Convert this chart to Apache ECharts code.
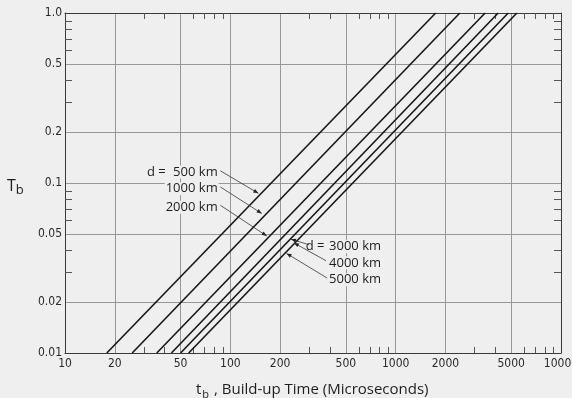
<!DOCTYPE html>
<html><head><meta charset="utf-8">
<script src="https://cdn.jsdelivr.net/npm/echarts@6/dist/echarts.min.js"></script>
<style>html,body{margin:0;padding:0;background:#efefef}#c{width:572px;height:398px}</style>
</head><body><div id="c"></div>
<script>
// ---- data ----
const distances = ['500 km', '1000 km', '2000 km', '3000 km', '4000 km', '5000 km'];
const tAtTlow  = [17.9, 25.5, 35.9, 44, 50, 56];        // build-up time where T_b = 0.01
const tAtThigh = [1746, 2444, 3475, 4169, 4797, 5408];  // build-up time where T_b = 1.0
const TEnds = [0.01, 1.0];
const xMajorTicks = [10, 20, 50, 100, 200, 500, 1000, 2000, 5000, 10000];
const xTickLabels = ['10', '20', '50', '100', '200', '500', '1000', '2000', '5000', '10000'];
const xMinorTicks = [30, 40, 60, 70, 80, 90, 300, 400, 600, 700, 800, 900, 3000, 4000, 6000, 7000, 8000, 9000];
const yMajorTicks = [0.01, 0.02, 0.05, 0.1, 0.2, 0.5, 1];
const yTickLabels = ['0.01', '0.02', '0.05', '0.1', '0.2', '0.5', '1.0'];
const yMinorTicks = [0.03, 0.04, 0.06, 0.07, 0.08, 0.09, 0.3, 0.4, 0.6, 0.7, 0.8, 0.9];
// annotation anchors in data coordinates [t, T]
const leftLabelAnchors  = [[85, 0.116], [85, 0.0925], [85, 0.072]];
const leftDAnchor = [30.9, 0.116];
const rightLabelAnchors = [[390, 0.0422], [390, 0.0339], [390, 0.0270]];
const rightDAnchor = [376, 0.0422];
const leaderStarts = [[87, 0.118], [87, 0.0948], [87, 0.0740], [300, 0.0433], [379, 0.0349], [385, 0.0276]];
const leaderEnds   = [[147.7, 0.0870], [154.9, 0.0662], [166, 0.0488], [232.8, 0.0467], [242.6, 0.0444], [219, 0.0385]];

// ---- chart ----
const chart = echarts.init(document.getElementById('c'), null, {renderer: 'canvas'});
const frameColor = '#3a3a3a';
const gridColor = '#979797';
const tickFont = {fontFamily: "'Liberation Sans Narrow','DejaVu Sans Condensed',sans-serif", fontSize: 12, color: '#2a2a2a'};
const annFont = "'Open Sans','Liberation Sans',sans-serif";

function labelFor(v, ticks, labels) {
  let best = 0, bd = Infinity;
  ticks.forEach((t, i) => { const d = Math.abs(Math.log(t) - Math.log(v)); if (d < bd) { bd = d; best = i; } });
  return labels[best];
}

const series = distances.map((d, i) => ({
  name: d, type: 'line', xAxisIndex: 0, yAxisIndex: 0, symbol: 'none', showSymbol: false,
  data: [[tAtTlow[i], TEnds[0]], [tAtThigh[i], TEnds[1]]],
  lineStyle: {color: '#161616', width: 1.6}, silent: true
}));

const xBase = {type: 'log', logBase: 10, min: 10, max: 10000};
const yBase = {type: 'log', logBase: 10, min: 0.01, max: 1};

chart.setOption({
  backgroundColor: '#efefef',
  animation: false,
  grid: {left: 65, right: 11, top: 13, bottom: 45, containLabel: false, outerBoundsMode: 'none'},
  xAxis: [
    Object.assign({}, xBase, {
      position: 'bottom',
      axisLine: {show: true, lineStyle: {color: frameColor, width: 1}},
      axisTick: {show: false, customValues: xMajorTicks},
      axisLabel: Object.assign({customValues: xMajorTicks, margin: 5, hideOverlap: false,
        formatter: v => labelFor(v, xMajorTicks, xTickLabels)}, tickFont),
      splitLine: {show: true, lineStyle: {color: gridColor, width: 1}}
    }),
    Object.assign({}, xBase, {
      position: 'bottom',
      axisLine: {show: false},
      axisTick: {show: true, inside: true, length: 6, customValues: xMinorTicks, lineStyle: {color: '#555', width: 1}},
      axisLabel: {show: false}, splitLine: {show: false}
    }),
    Object.assign({}, xBase, {
      position: 'top',
      axisLine: {show: true, lineStyle: {color: frameColor, width: 1}},
      axisTick: {show: true, inside: true, length: 6, customValues: xMinorTicks, lineStyle: {color: '#555', width: 1}},
      axisLabel: {show: false}, splitLine: {show: false}
    })
  ],
  yAxis: [
    Object.assign({}, yBase, {
      position: 'left',
      axisLine: {show: true, lineStyle: {color: frameColor, width: 1}},
      axisTick: {show: false, customValues: yMajorTicks},
      axisLabel: Object.assign({customValues: yMajorTicks, margin: 3, hideOverlap: false,
        formatter: v => labelFor(v, yMajorTicks, yTickLabels)}, tickFont),
      splitLine: {show: true, lineStyle: {color: gridColor, width: 1}}
    }),
    Object.assign({}, yBase, {
      position: 'left',
      axisLine: {show: false},
      axisTick: {show: true, inside: true, length: 7, customValues: yMinorTicks, lineStyle: {color: '#555', width: 1}},
      axisLabel: {show: false}, splitLine: {show: false}
    }),
    Object.assign({}, yBase, {
      position: 'right',
      axisLine: {show: true, lineStyle: {color: frameColor, width: 1}},
      axisTick: {show: true, inside: true, length: 7, customValues: yMinorTicks, lineStyle: {color: '#555', width: 1}},
      axisLabel: {show: false}, splitLine: {show: false}
    })
  ],
  series: series
});

// ---- annotations (positioned through the axes) ----
const P = (pt) => chart.convertToPixel({xAxisIndex: 0, yAxisIndex: 0}, pt);
const g = [];
function txt(pt, text, align, size) {
  const p = P(pt);
  g.push({type: 'text', x: p[0], y: p[1], z: 10,
    style: {text: text, align: align, verticalAlign: 'middle', fill: '#1e1e1e',
      font: (size || 13) + 'px ' + annFont, backgroundColor: '#efefef', padding: [0, 1]}});
}
txt(leftDAnchor, 'd =', 'left');
leftLabelAnchors.forEach((a, i) => txt(a, distances[i], 'right'));
txt(rightDAnchor, 'd =', 'right');
rightLabelAnchors.forEach((a, i) => txt(a, distances[i + 3], 'left'));

leaderStarts.forEach((s, i) => {
  const a = P(s), b = P(leaderEnds[i]);
  g.push({type: 'line', z: 11, shape: {x1: a[0], y1: a[1], x2: b[0], y2: b[1]},
    style: {stroke: '#333', lineWidth: 0.8}});
  const ang = Math.atan2(b[1] - a[1], b[0] - a[0]);
  const L = 5, W = 2;
  const bx = b[0] - L * Math.cos(ang), by = b[1] - L * Math.sin(ang);
  g.push({type: 'polygon', z: 11, shape: {points: [
    [b[0], b[1]],
    [bx + W * Math.sin(ang), by - W * Math.cos(ang)],
    [bx - W * Math.sin(ang), by + W * Math.cos(ang)]]},
    style: {fill: '#222'}});
});

// axis titles
g.push({type: 'text', x: 196, y: 390, z: 10, style: {
  text: '{m|t}{s|b}{m| , Build-up Time (Microseconds)}', verticalAlign: 'middle', fill: '#1e1e1e',
  rich: {m: {fontSize: 15, fontFamily: annFont, fill: '#1e1e1e', lineHeight: 20},
         s: {fontSize: 11, fontFamily: annFont, fill: '#1e1e1e', padding: [9, 1, 0, 1], lineHeight: 20}}}});
g.push({type: 'text', x: 7, y: 186, z: 10, style: {
  text: '{m|T}{s|b}', verticalAlign: 'middle', fill: '#1e1e1e',
  rich: {m: {fontSize: 16, fontFamily: annFont, fill: '#1e1e1e', lineHeight: 22},
         s: {fontSize: 13, fontFamily: annFont, fill: '#1e1e1e', padding: [9, 0, 0, 0], lineHeight: 22}}}});

chart.setOption({graphic: g});
</script></body></html>
